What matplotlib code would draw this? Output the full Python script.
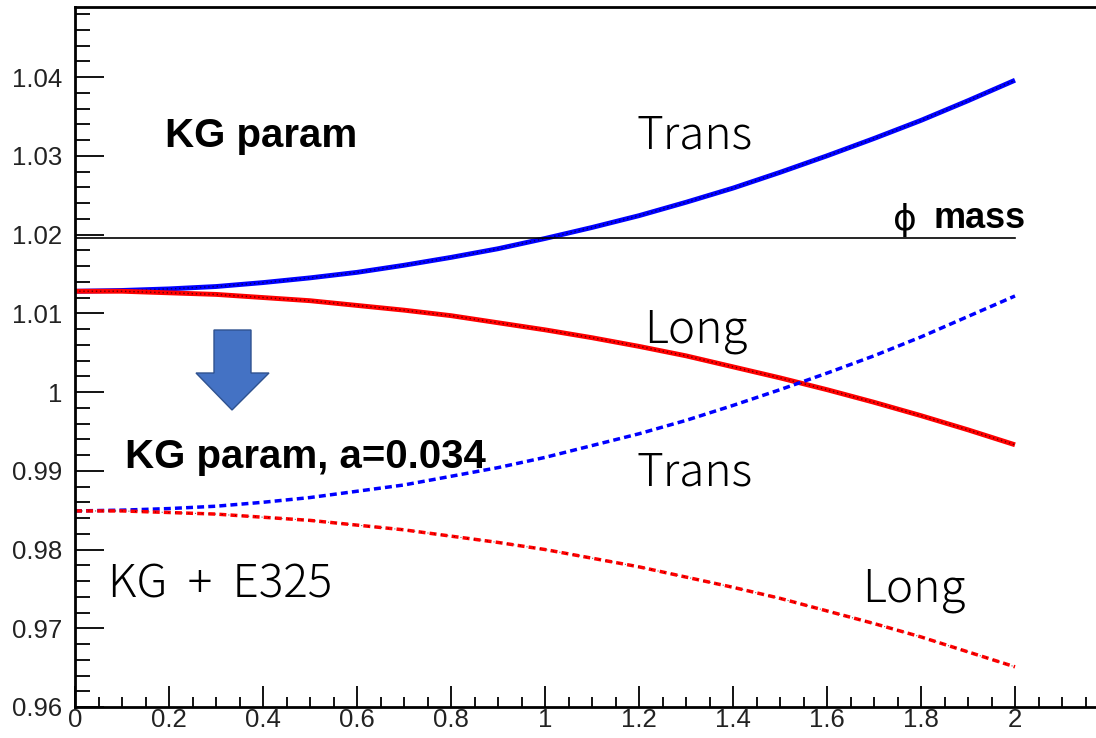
import numpy as np
import matplotlib
matplotlib.use("Agg")
import matplotlib.pyplot as plt
from matplotlib.patches import Polygon
from matplotlib.ticker import MultipleLocator, FuncFormatter

# momentum values (x) and masses
p = [0.0, 0.1, 0.2, 0.3, 0.4, 0.5, 0.6, 0.7, 0.8, 0.9, 1.0,
     1.1, 1.2, 1.3, 1.4, 1.5, 1.6, 1.7, 1.8, 1.9, 2.0]

kg_trans = [1.0128, 1.0129, 1.0131, 1.0134, 1.0139, 1.0145, 1.0152, 1.0161, 1.0171, 1.0182, 1.0195,
            1.0209, 1.0224, 1.0241, 1.0259, 1.0279, 1.0300, 1.0322, 1.0345, 1.0370, 1.0396]
kg_long = [1.0128, 1.0128, 1.0126, 1.0124, 1.0120, 1.0116, 1.0110, 1.0104, 1.0097, 1.0088, 1.0079,
           1.0069, 1.0058, 1.0046, 1.0032, 1.0018, 1.0003, 0.9987, 0.9970, 0.9952, 0.9933]
kga_trans = [0.9849, 0.9850, 0.9852, 0.9855, 0.9860, 0.9866, 0.9874, 0.9882, 0.9893, 0.9904, 0.9917,
             0.9932, 0.9947, 0.9964, 0.9983, 1.0003, 1.0024, 1.0046, 1.0070, 1.0096, 1.0122]
kga_long = [0.9849, 0.9849, 0.9847, 0.9845, 0.9841, 0.9837, 0.9831, 0.9825, 0.9817, 0.9809, 0.9800,
            0.9789, 0.9778, 0.9765, 0.9752, 0.9738, 0.9722, 0.9706, 0.9689, 0.9670, 0.9651]

phi_mass = 1.0195
phi_range = [0.0, 2.0]

W, H = 1096, 738
fig = plt.figure(figsize=(W / 100, H / 100), dpi=100)

# axis frame: left edge at px 75, bottom at px 707, right spine (x=2.2) falls just outside the picture
x0, y0, ytop = 75, 707, 7
px_per_x = 470.0
ax = fig.add_axes([x0 / W, (H - y0) / H, (2.2 * px_per_x) / W, (y0 - ytop) / H])
ax.set_xlim(0, 2.2)
ax.set_ylim(0.96, 1.0489)

ax.plot(p, kg_trans, color="#0000ff", lw=3.5, solid_capstyle="butt")
ax.plot(p, kg_trans, color="black", lw=1, ls=(0, (1, 2)), alpha=0.6)
ax.plot(p, kg_long, color="#ff0000", lw=3.5, solid_capstyle="butt")
ax.plot(p, kg_long, color="black", lw=1, ls=(0, (1, 2)), alpha=0.6)

ax.plot(p, kga_trans, color="#0000ff", lw=2.5, ls=(0, (2.0, 1.2)))
ax.plot(p, kga_long, color="#ff0000", lw=2.5, ls=(0, (2.0, 1.2)))
ax.plot(p, kga_long, color="black", lw=0.8, ls=(0, (1, 5)), alpha=0.6)

ax.plot(phi_range, [phi_mass, phi_mass], color="black", lw=1.2)

# ROOT-like axes
for s in ["left", "top", "bottom", "right"]:
    ax.spines[s].set_linewidth(2)
ax.xaxis.set_major_locator(MultipleLocator(0.2))
ax.xaxis.set_minor_locator(MultipleLocator(0.05))
ax.yaxis.set_major_locator(MultipleLocator(0.01))
ax.yaxis.set_minor_locator(MultipleLocator(0.002))
fmt = FuncFormatter(lambda v, pos: "%g" % round(v, 4))
xfmt = FuncFormatter(lambda v, pos: "%g" % round(v, 4) if v < 2.1 else "")
ax.xaxis.set_major_formatter(xfmt)
ax.yaxis.set_major_formatter(fmt)
ax.tick_params(axis="both", which="both", direction="in", top=False, right=False,
               width=1.3, labelsize=18.5, colors="black")
ax.tick_params(axis="y", which="major", length=21, pad=9, labelcolor="#222222")
ax.tick_params(axis="y", which="minor", length=10.5)
ax.tick_params(axis="x", which="major", length=15, pad=1, labelcolor="#222222")
ax.tick_params(axis="x", which="minor", length=7.5)
for lab in ax.get_xticklabels() + ax.get_yticklabels():
    lab.set_family("Liberation Sans")

# ROOT labels
ax.text(0.192, 1.0325, "KG param", fontsize=29, fontweight="bold", family="Liberation Sans",
        va="center", ha="left")
ax.text(0.106, 0.9917, "KG param, a=0.034", fontsize=29, fontweight="bold",
        family="Liberation Sans", va="center", ha="left")
ax.text(1.74, 1.0219, "\u03d5", fontsize=26, family="DejaVu Sans", va="center", ha="left")
ax.text(1.826, 1.0220, "mass", fontsize=26, fontweight="bold", family="Liberation Sans",
        va="center", ha="left")

# slide annotations
jp = ["Noto Sans CJK JP", "DejaVu Sans"]
ax.text(1.195, 1.0325, "Trans", fontsize=33, family=jp, fontweight="light", va="center", ha="left")
ax.text(1.21, 1.0078, "Long", fontsize=33, family=jp, fontweight="light", va="center", ha="left")
ax.text(1.195, 0.9898, "Trans", fontsize=33, family=jp, fontweight="light", va="center", ha="left")
ax.text(1.675, 0.9750, "Long", fontsize=33, family=jp, fontweight="light", va="center", ha="left")
ax.text(0.07, 0.9755, "KG  +  E325", fontsize=33, family=jp, fontweight="light",
        va="center", ha="left")

# block arrow (figure pixels, y from top)
arrow_px = [(214, 330), (251, 330), (251, 373), (269, 373), (232, 410),
            (196, 373), (214, 373)]
arrow = Polygon([(x / W, 1 - y / H) for x, y in arrow_px], closed=True,
                transform=fig.transFigure, facecolor="#4472c4", edgecolor="#2f528f", lw=1)
fig.patches.append(arrow)

fig.savefig("out.png", dpi=100)
